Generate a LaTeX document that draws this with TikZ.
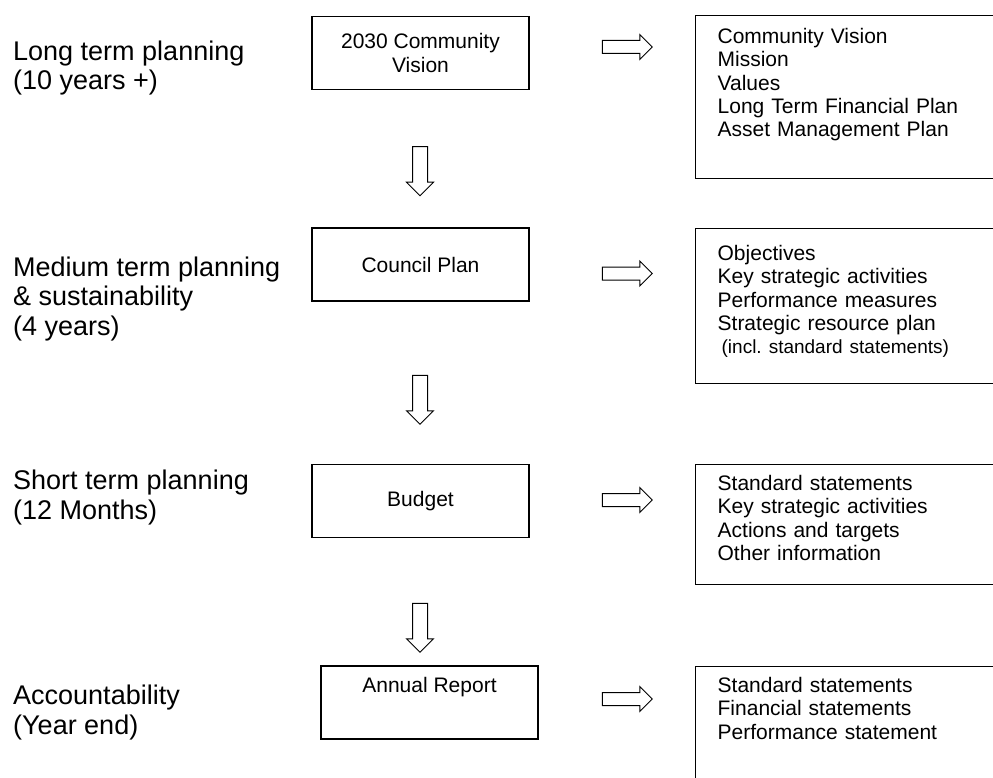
\documentclass[tikz,border=0pt]{standalone}
\usepackage{fontspec}
\setmainfont{Liberation Sans}
\usetikzlibrary{shapes.arrows}

\newcommand{\periodfont}{\fontsize{27}{29.5}\selectfont}
\newcommand{\stagefont}{\fontsize{21}{23.3}\selectfont}
\newcommand{\notefont}{\fontsize{19}{23.3}\selectfont}

\tikzset{
  stagebox/.style={draw, line width=1.3pt, minimum width=217pt, minimum height=73pt, align=center, font=\stagefont},
  listbox/.style={draw, line width=1.3pt, anchor=north west, align=left, text width=271pt, inner xsep=22pt, inner ysep=10pt, font=\stagefont},
  period/.style={anchor=base west, align=left, inner sep=0pt, font=\periodfont},
  sidearrow/.style={draw, line width=1pt, single arrow, single arrow head extend=6pt, inner sep=6pt, minimum height=50pt},
  downarrow/.style={sidearrow, inner sep=7pt, minimum height=49pt, rotate=-90}
}

\begin{document}
\begin{tikzpicture}[x=1pt, y=-1pt]
    \clip (0,0) rectangle (993,778);

    % Planning horizons (base = last line)
    \node[period] (longterm) at (13,90) {Long term planning\\(10 years +)};
    \node[period] (mediumterm) at (13,335) {Medium term planning\\\& sustainability\\(4 years)};
    \node[period] (shortterm) at (13,519) {Short term planning\\(12 Months)};
    \node[period] (yearend) at (13,734) {Accountability\\(Year end)};

    % The four documents
    \node[stagebox] (vision) at (420.5,53) {2030 Community\\Vision};
    \node[stagebox] (plan) at (420.5,264.5) {Council Plan};
    \node[stagebox] (budget) at (420.5,501) {Budget};
    \node[stagebox, text height=15pt, text depth=36pt, inner ysep=11pt] (report) at (429.5,702.5) {Annual Report};

    % What each document contains
    \node[listbox, text height=18pt, text depth=125pt] (visionlist) at (695,15) {Community Vision\\Mission\\Values\\Long Term Financial Plan\\Asset Management Plan};
    \node[listbox, text height=22pt, text depth=113pt] (planlist) at (695,228) {Objectives\\Key strategic activities\\Performance measures\\Strategic resource plan\\\hspace*{4pt}{\notefont(incl.\ standard statements)}};
    \node[listbox, text height=16pt, text depth=84pt] (budgetlist) at (695,464) {Standard statements\\Key strategic activities\\Actions and targets\\Other information};
    \node[listbox, text height=16pt, text depth=98pt] (reportlist) at (695,666) {Standard statements\\Financial statements\\Performance statement};

    % Hollow arrows
    \node[sidearrow] (visionout) at (624,47) {};
    \node[sidearrow] (planout) at (624,273.5) {};
    \node[sidearrow] (budgetout) at (624,500) {};
    \node[sidearrow] (reportout) at (624,699) {};
    \node[downarrow] (visiondown) at (420,167.5) {};
    \node[downarrow] (plandown) at (420,396) {};
    \node[downarrow] (budgetdown) at (420,624) {};

\end{tikzpicture}
\end{document}
